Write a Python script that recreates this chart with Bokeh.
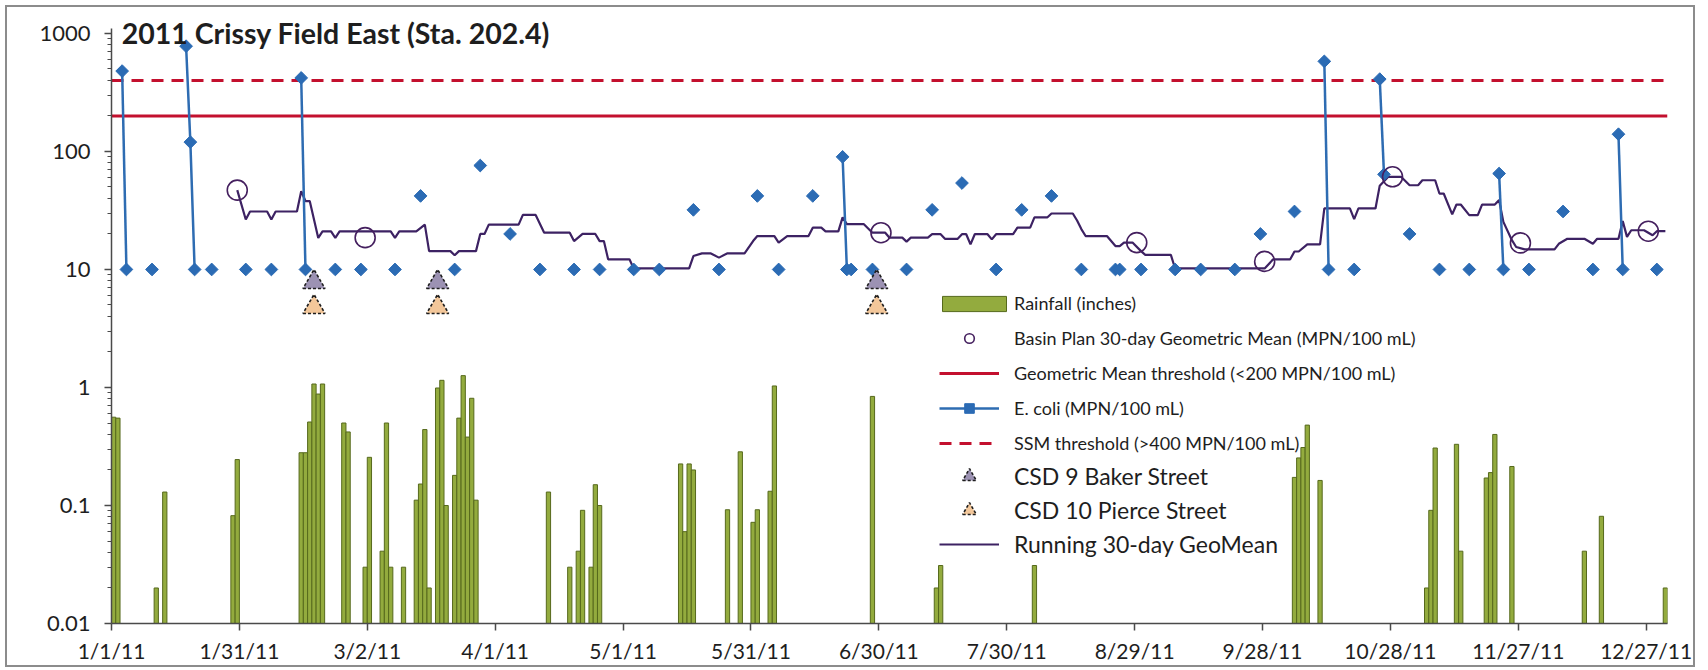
import numpy as np
import pandas as pd
from bokeh.plotting import figure
from bokeh.models import Range1d, FixedTicker, Legend, LegendItem, Label
from bokeh.embed import file_html
from bokeh.resources import INLINE

# ---------------- data ----------------
TITLE = "2011 Crissy Field East (Sta. 202.4)"

x_tick_labels = ["1/1/11", "1/31/11", "3/2/11", "4/1/11", "5/1/11", "5/31/11",
                 "6/30/11", "7/30/11", "8/29/11", "9/28/11", "10/28/11",
                 "11/27/11", "12/27/11"]
y_tick_values = [0.01, 0.1, 1, 10, 100, 1000]
y_tick_labels = ["0.01", "0.1", "1", "10", "100", "1000"]

gm_threshold = 200      # Geometric Mean threshold (<200 MPN/100 mL)
ssm_threshold = 400     # SSM threshold (>400 MPN/100 mL)

rain_dates = ["1/1/11", "1/2/11", "1/11/11", "1/13/11", "1/29/11", "1/30/11",
              "2/14/11", "2/15/11", "2/16/11", "2/17/11", "2/18/11", "2/19/11",
              "2/24/11", "2/25/11", "3/1/11", "3/2/11", "3/5/11", "3/6/11",
              "3/7/11", "3/10/11", "3/13/11", "3/14/11", "3/15/11", "3/16/11",
              "3/18/11", "3/19/11", "3/20/11", "3/22/11", "3/23/11", "3/24/11",
              "3/25/11", "3/26/11", "3/27/11", "4/13/11", "4/18/11", "4/20/11",
              "4/21/11", "4/23/11", "4/24/11", "4/25/11", "5/14/11", "5/15/11",
              "5/16/11", "5/17/11", "5/25/11", "5/28/11", "5/31/11", "6/1/11",
              "6/4/11", "6/5/11", "6/28/11", "7/13/11", "7/14/11", "8/5/11",
              "10/5/11", "10/6/11", "10/7/11", "10/8/11", "10/11/11", "11/5/11",
              "11/6/11", "11/7/11", "11/12/11", "11/13/11", "11/19/11",
              "11/20/11", "11/21/11", "11/25/11", "12/12/11", "12/16/11",
              "12/31/11"]
rain_inches = [0.56, 0.55, 0.020, 0.13, 0.082, 0.245,
               0.28, 0.28, 0.51, 1.07, 0.88, 1.07,
               0.50, 0.42, 0.030, 0.256, 0.041, 0.50,
               0.030, 0.030, 0.111, 0.152, 0.44, 0.020,
               0.99, 1.15, 0.10, 0.18, 0.55, 1.26,
               0.38, 0.81, 0.111, 0.13, 0.030, 0.041,
               0.091, 0.030, 0.15, 0.10, 0.225, 0.06,
               0.225, 0.20, 0.092, 0.285, 0.072, 0.092,
               0.132, 1.03, 0.84, 0.020, 0.031, 0.031,
               0.173, 0.253, 0.31, 0.48, 0.163, 0.020,
               0.091, 0.307, 0.33, 0.041, 0.171,
               0.19, 0.40, 0.214, 0.041, 0.081,
               0.020]

ecoli_dates = ["1/3/11", "1/4/11", "1/10/11", "1/18/11", "1/19/11", "1/20/11",
               "1/24/11", "2/1/11", "2/7/11", "2/14/11", "2/15/11", "2/22/11",
               "2/28/11", "3/8/11", "3/14/11", "3/22/11", "3/28/11", "4/4/11",
               "4/11/11", "4/19/11", "4/25/11", "5/3/11", "5/9/11", "5/17/11",
               "5/23/11", "6/1/11", "6/6/11", "6/14/11", "6/21/11", "6/22/11",
               "6/23/11", "6/28/11", "7/6/11", "7/12/11", "7/19/11", "7/27/11",
               "8/2/11", "8/9/11", "8/16/11", "8/24/11", "8/25/11", "8/30/11",
               "9/7/11", "9/13/11", "9/21/11", "9/27/11", "10/5/11", "10/12/11",
               "10/13/11", "10/19/11", "10/25/11", "10/26/11", "11/1/11",
               "11/8/11", "11/15/11", "11/22/11", "11/23/11", "11/29/11",
               "12/7/11", "12/14/11", "12/20/11", "12/21/11", "12/29/11"]
ecoli_mpn = [480, 10, 10, 780, 120, 10,
             10, 10, 10, 420, 10, 10,
             10, 10, 42, 10, 76, 20,
             10, 10, 10, 10, 10, 32,
             10, 42, 10, 42, 90, 10,
             10, 10, 10, 32, 54, 10,
             32, 42, 10, 10, 10, 10,
             10, 10, 10, 20, 31, 580,
             10, 10, 410, 64, 20,
             10, 10, 65, 10, 10,
             31, 10, 140, 10, 10]

basin_gm_dates = ["1/30/11", "3/1/11", "6/30/11", "8/29/11", "9/28/11",
                  "10/28/11", "11/27/11", "12/27/11"]
basin_gm_mpn = [47, 18.6, 20.5, 16.9, 11.7, 61, 16.8, 21.1]

running_gm_dates = ["1/30/11", "2/1/11", "2/2/11", "2/6/11", "2/7/11", "2/8/11",
                    "2/13/11", "2/14/11", "2/15/11", "2/16/11", "2/18/11",
                    "2/19/11", "2/21/11", "2/22/11", "2/23/11", "3/7/11",
                    "3/8/11", "3/9/11", "3/13/11", "3/15/11", "3/16/11",
                    "3/21/11", "3/22/11", "3/23/11", "3/27/11", "3/28/11",
                    "3/29/11", "3/30/11", "4/6/11", "4/7/11", "4/10/11",
                    "4/12/11", "4/18/11", "4/19/11", "4/21/11", "4/24/11",
                    "4/25/11", "4/26/11", "4/27/11", "5/2/11", "5/3/11",
                    "5/16/11", "5/17/11", "5/19/11", "5/21/11", "5/23/11",
                    "5/25/11", "5/29/11", "5/31/11", "6/1/11", "6/5/11",
                    "6/6/11", "6/8/11", "6/13/11", "6/14/11", "6/16/11",
                    "6/17/11", "6/20/11", "6/21/11", "6/22/11", "6/26/11",
                    "6/28/11", "7/1/11", "7/2/11", "7/5/11", "7/6/11",
                    "7/7/11", "7/11/11", "7/12/11", "7/14/11", "7/15/11",
                    "7/18/11", "7/19/11", "7/20/11", "7/21/11", "7/22/11",
                    "7/25/11", "7/26/11", "7/27/11", "7/31/11", "8/1/11",
                    "8/4/11", "8/5/11", "8/8/11", "8/9/11", "8/14/11",
                    "8/15/11", "8/16/11", "8/17/11", "8/22/11", "8/24/11",
                    "8/25/11", "8/26/11", "8/28/11", "8/30/11", "8/31/11",
                    "9/6/11", "9/7/11", "9/28/11", "9/30/11", "10/4/11",
                    "10/5/11", "10/6/11", "10/8/11", "10/11/11", "10/12/11",
                    "10/18/11", "10/19/11", "10/20/11", "10/24/11", "10/25/11",
                    "10/27/11", "10/30/11", "11/1/11", "11/3/11", "11/4/11",
                    "11/7/11", "11/8/11", "11/9/11", "11/11/11", "11/12/11",
                    "11/13/11", "11/15/11", "11/17/11", "11/18/11", "11/21/11",
                    "11/22/11", "11/23/11", "11/25/11", "11/26/11", "11/28/11",
                    "12/5/11", "12/6/11", "12/8/11", "12/12/11", "12/14/11",
                    "12/15/11", "12/20/11", "12/21/11", "12/22/11", "12/23/11",
                    "12/26/11", "12/28/11", "12/29/11", "12/31/11"]
running_gm_mpn = [47, 26.5, 31, 31, 26.5, 31,
                  31, 46, 38, 38, 18.5,
                  21, 21, 18.5, 21, 21,
                  18.5, 21, 21, 24, 14.3,
                  14.3, 13.2, 14.3, 14.3, 20,
                  20, 24, 24, 29, 29,
                  20.5, 20.5, 17.4, 20, 20,
                  17.4, 17.4, 12.2, 12.2, 10.2,
                  10.2, 13, 13.7, 13.7, 12.6,
                  13.7, 13.7, 17.4, 19.2, 19.2,
                  16.9, 19.2, 19.2, 22.6, 22.6,
                  21, 21, 27.6, 24.2, 24.2,
                  20.5, 20.5, 18.6, 18.6, 17.2,
                  18.6, 18.6, 19.9, 19.9, 18.2,
                  18.2, 19.9, 19.9, 16.3, 19.9,
                  19.9, 18, 19.9, 19.9, 22.6,
                  22.6, 27.6, 27.6, 29.8, 29.8,
                  26, 22, 19.2, 19.2, 15.8,
                  15.8, 16.9, 16.9, 14.3, 13.3,
                  13.3, 10.2, 10.2, 12.2, 12.2,
                  14.2, 14.2, 16.3, 16.3, 32.9,
                  32.9, 26.7, 32.9, 32.9, 51.3,
                  61, 61, 51.7, 51.7, 57,
                  57, 44, 44, 29.3, 35.5,
                  35.5, 28.9, 28.9, 35.5, 35.5,
                  38.7, 25.3, 17.7, 15.5, 14.8,
                  14.8, 16.5, 18.2, 18.2, 16.5,
                  18.2, 18.2, 25.7, 18.9, 21.5,
                  21.5, 19.5, 21.1, 21.1]

csd9_dates = ["2/17/11", "3/18/11", "6/29/11"]
csd9_marker_level = 7.8
csd10_dates = ["2/17/11", "3/18/11", "6/29/11"]
csd10_marker_level = 4.8

# ---------------- helpers ----------------
YEAR_START = pd.Timestamp("2011-01-01")
YEAR_END = pd.Timestamp("2012-01-01")
HALF_DAY = 0.5  # Excel date axis puts each value in the middle of its day


def day_of(dates):
    t = pd.to_datetime(pd.Series(dates), format="%m/%d/%y")
    return [float(v) for v in (t - YEAR_START).dt.days]


def centre(dates):
    return [d + HALF_DAY for d in day_of(dates)]


x_end = float((YEAR_END - YEAR_START).days)
tick_days = [int(d) for d in day_of(x_tick_labels)]

rain_x = centre(rain_dates)
ecoli_x = centre(ecoli_dates)
basin_x = centre(basin_gm_dates)
running_x = centre(running_gm_dates)
csd9_x = centre(csd9_dates)
csd10_x = centre(csd10_dates)

# E. coli line only joins samples taken on consecutive days
seg_xs, seg_ys = [], []
cur_x, cur_y = [ecoli_x[0]], [ecoli_mpn[0]]
for i in range(1, len(ecoli_x)):
    if ecoli_x[i] - ecoli_x[i - 1] <= 1.01:
        cur_x.append(ecoli_x[i]); cur_y.append(ecoli_mpn[i])
    else:
        if len(cur_x) > 1:
            seg_xs.append(cur_x); seg_ys.append(cur_y)
        cur_x, cur_y = [ecoli_x[i]], [ecoli_mpn[i]]
if len(cur_x) > 1:
    seg_xs.append(cur_x); seg_ys.append(cur_y)

# ---------------- figure ----------------
FONT = "Lato"
TXT = "#1e1e1e"
PX_PER_DECADE = 118.4
HEADROOM_PX = 15          # plot area extends a little above the 1000 line
y_top = y_tick_values[-1] * 10 ** (HEADROOM_PX / PX_PER_DECADE)

p = figure(width=1686, height=658, x_range=Range1d(0, x_end),
           y_range=Range1d(y_tick_values[0], y_top),
           y_axis_type="log", output_backend="svg", toolbar_location=None,
           min_border_left=104, min_border_right=26, min_border_top=11,
           min_border_bottom=40, background_fill_color="white",
           border_fill_color="white", margin=(7, 0, 0, 7),
           styles={"outline": "2px solid #8c8c8c"})
p.outline_line_color = None
p.xgrid.visible = False
p.ygrid.visible = False

# axes
p.yaxis.ticker = FixedTicker(ticks=y_tick_values,
                             minor_ticks=[m * 10.0 ** e for e in range(-2, 3)
                                          for m in range(2, 10)])
p.yaxis.major_label_overrides = {float(v): s for v, s in zip(y_tick_values, y_tick_labels)}
p.yaxis.bounds = (y_tick_values[0], y_tick_values[-1] * 1.1)
p.xaxis.ticker = FixedTicker(ticks=tick_days, minor_ticks=[])
p.xaxis.major_label_overrides = {d: s for d, s in zip(tick_days, x_tick_labels)}
for ax in (p.xaxis[0], p.yaxis[0]):
    ax.axis_line_color = "#4a4a4a"
    ax.axis_line_width = 1.5
    ax.major_tick_line_color = "#4a4a4a"
    ax.major_tick_line_width = 1.5
    ax.minor_tick_line_color = "#4a4a4a"
    ax.major_tick_in = 0
    ax.major_tick_out = 7
    ax.minor_tick_in = 0
    ax.minor_tick_out = 4
    ax.major_label_text_font = FONT
    ax.major_label_text_color = TXT
p.yaxis.major_label_text_font_size = "22px"
p.xaxis.major_label_text_font_size = "21px"
p.yaxis.major_label_standoff = 14
p.xaxis.major_label_standoff = 7

# title
p.add_layout(Label(x=2.4, y=y_tick_values[-1], text=TITLE, text_font=FONT,
                   text_font_size="28.5px", text_font_style="bold",
                   text_color=TXT, text_baseline="middle"))

# rainfall bars
bars = p.vbar(x=rain_x, top=rain_inches, bottom=y_tick_values[0], width=1.0,
              fill_color="#93ab3e", line_color="#56691c", line_width=1)

# thresholds
gm_line = p.line(x=[0, x_end], y=[gm_threshold, gm_threshold],
                 line_color="#c3102e", line_width=3)
ssm_line = p.line(x=[0, x_end], y=[ssm_threshold, ssm_threshold],
                  line_color="#c3102e", line_width=3, line_dash="12 8")

# running geomean
run_line = p.line(x=running_x, y=running_gm_mpn, line_color="#3d2263",
                  line_width=2.2)

# E. coli
ec_lines = p.multi_line(xs=seg_xs, ys=seg_ys, line_color="#2e6cb2",
                        line_width=2.5)
ec_pts = p.scatter(x=ecoli_x, y=ecoli_mpn, marker="square", angle=np.pi / 4,
                   size=9, fill_color="#2b6bb4", line_color="#2b6bb4")

# Basin plan 30-day geometric means
basin = p.scatter(x=basin_x, y=basin_gm_mpn, marker="circle", size=20,
                  fill_color=None, line_color="#45205f", line_width=1.6)

# CSD events
csd9 = p.scatter(x=csd9_x, y=[csd9_marker_level] * len(csd9_x),
                 marker="triangle", size=22, fill_color="#9c92b3",
                 line_color="#1e1e1e", line_width=1.6, line_dash="3 2")
csd10 = p.scatter(x=csd10_x, y=[csd10_marker_level] * len(csd10_x),
                  marker="triangle", size=22, fill_color="#f3c79a",
                  line_color="#1e1e1e", line_width=1.6, line_dash="3 2")

# legends (three blocks to reproduce the two text sizes)
common = dict(border_line_color=None, background_fill_alpha=0, padding=0,
              margin=0, label_text_font=FONT, label_text_color=TXT,
              level="underlay")
leg0 = Legend(items=[LegendItem(label="Rainfall (inches)", renderers=[bars])],
              location=(823, 309), glyph_width=80, glyph_height=19,
              label_height=22, label_standoff=0, spacing=0,
              label_text_font_size="18px", **common)
leg1 = Legend(items=[
    LegendItem(label="Basin Plan 30-day Geometric Mean (MPN/100 mL)", renderers=[basin]),
    LegendItem(label="Geometric Mean threshold (<200 MPN/100 mL)", renderers=[gm_line]),
    LegendItem(label="E. coli (MPN/100 mL)", renderers=[ec_lines, ec_pts]),
    LegendItem(label="SSM threshold (>400 MPN/100 mL)", renderers=[ssm_line]),
], location=(828, 168), glyph_width=60, glyph_height=24, label_height=24,
    label_standoff=15, spacing=11, label_text_font_size="18px", **common)
leg2 = Legend(items=[
    LegendItem(label="CSD 9 Baker Street", renderers=[csd9]),
    LegendItem(label="CSD 10 Pierce Street", renderers=[csd10]),
    LegendItem(label="Running 30-day GeoMean", renderers=[run_line]),
], location=(828, 62), glyph_width=60, glyph_height=34, label_height=34,
    label_standoff=15, spacing=0, label_text_font_size="23px", **common)
for lg in (leg0, leg1, leg2):
    p.add_layout(lg, "center")

open("out.html", "w").write(file_html(p, INLINE))
